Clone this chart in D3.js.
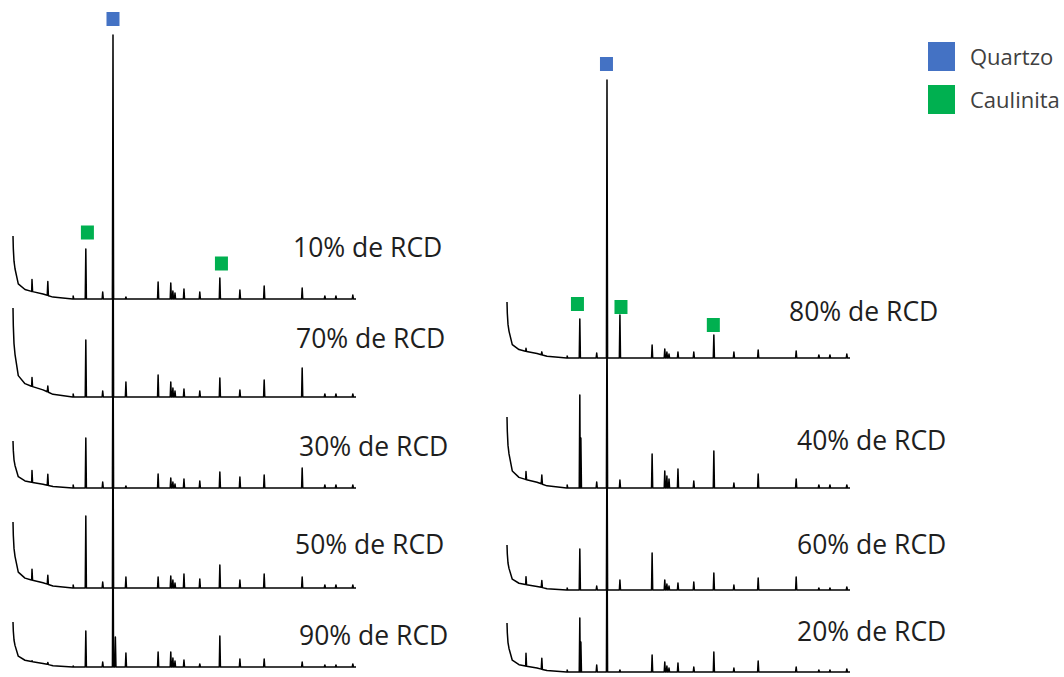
<!DOCTYPE html>
<html><head><meta charset="utf-8">
<script src="https://cdn.jsdelivr.net/npm/d3@7"></script>
<style>body{margin:0;background:#fff} svg{display:block}</style>
</head><body><svg id="chart" width="1064" height="677"></svg>
<script>
// ---- data -------------------------------------------------------------
// 2θ window recorded for every sample
const twoThetaRange = [5, 70];

// reflection positions (2θ) shared by every sample
const peakPositions = [8.6, 11.6, 16.4, 18.8, 19.0, 22.0, 23.95, 24.4, 26.4, 32.5, 34.9, 35.3, 35.7,
                       37.4, 40.4, 44.2, 48.0, 52.6, 59.8, 64.1, 66.2, 69.4];

// low-angle background: shape (fraction of the starting intensity) at these angles
const backgroundTheta = [5.0, 5.06, 5.19, 5.38, 6.0, 7.27, 8.54, 10.69, 12.58, 16.4, 70];
const backgroundShape = [1.0, 0.8, 0.6, 0.48, 0.24, 0.15, 0.12, 0.08, 0.03, 0.0, 0.0];

// sample names
const samplesLeft  = ["10% de RCD", "70% de RCD", "30% de RCD", "50% de RCD", "90% de RCD"];
const samplesRight = ["80% de RCD", "40% de RCD", "60% de RCD", "20% de RCD"];

// stacking offset of each diffractogram (counts)
const offsetsLeft  = [3730, 2750, 1840, 840, 50];
const offsetsRight = [3140, 1840, 820, 0];

// background intensity at 5° (counts)
const backgroundStartLeft  = [630, 890, 470, 660, 450];
const backgroundStartRight = [560, 710, 450, 490];

// peak intensities (counts) at peakPositions, one row per sample
const rcd10 = [120,140,30,500,0,70,2640,0,20,170,160,80,60,100,70,210,90,130,110,30,30,40];
const rcd70 = [90,60,30,570,0,60,2120,0,150,220,150,90,60,80,60,190,70,170,290,30,30,30];
const rcd30 = [120,110,30,500,0,60,1630,0,20,140,100,60,40,90,70,160,110,130,200,30,30,30];
const rcd50 = [110,90,30,720,0,60,1780,0,110,110,120,80,50,140,90,230,80,140,110,30,30,30];
const rcd90 = [10,20,10,360,0,50,1540,300,140,150,150,90,60,70,30,310,80,80,50,20,20,30];
const rcd80 = [30,30,20,390,0,50,2780,0,430,130,90,60,40,60,60,230,60,80,70,30,30,40];
const rcd40 = [80,90,30,930,500,60,1860,0,80,340,170,120,90,190,70,370,50,140,90,30,30,30];
const rcd60 = [80,70,20,410,0,40,1670,0,100,370,100,60,40,70,80,170,50,120,130,20,20,30];
const rcd20 = [130,110,20,540,300,70,1670,0,20,170,100,60,40,90,50,200,40,110,50,20,20,30];
const peaksLeft  = [rcd10, rcd70, rcd30, rcd50, rcd90];
const peaksRight = [rcd80, rcd40, rcd60, rcd20];

// phase identification markers: [2θ, stacked intensity]
const quartzoLeft    = [[23.95, 6530]];
const caulinitaLeft  = [[19.1, 4395], [44.5, 4085]];
const quartzoRight   = [[23.85, 6080]];
const caulinitaRight = [[18.35, 3680], [26.6, 3650], [44.1, 3470]];

const legendItems = ["Quartzo", "Caulinita"];

// ---- layout -----------------------------------------------------------
const panelLeftX  = [13, 507];
const panelWidth  = 343;
const colors = { quartzo: "#4472C4", caulinita: "#00B050" };
// sample label anchors (px, text baseline)
const labelPosLeft  = [[293, 257], [296, 348], [299, 456], [295, 554], [299, 645]];
const labelPosRight = [[789, 321], [797, 450], [797, 554], [797, 641]];

const svg = d3.select("#chart");

// stacked intensity -> px (10 counts per px)
const y = d3.scaleLinear().domain([0, 6720]).range([672, 0]);
const peakHalfWidth = 0.11;

const bgScale = d3.scaleLinear().domain(backgroundTheta).range(backgroundShape).clamp(true);

function tracePoints(peaks, bgStart) {
  const pts = backgroundTheta.map(t => [t, bgStart * bgScale(t)]);
  peakPositions.forEach((p, i) => {
    const h = peaks[i];
    if (!h) return;
    pts.push([p - peakHalfWidth, bgStart * bgScale(p - peakHalfWidth)]);
    pts.push([p, bgStart * bgScale(p) + h]);
    pts.push([p + peakHalfWidth, bgStart * bgScale(p + peakHalfWidth)]);
  });
  return pts.sort((a, b) => a[0] - b[0]);
}

function drawPanel(x0, names, offsets, bgStarts, peakRows, labelPos, quartzo, caulinita) {
  const x = d3.scaleLinear().domain(twoThetaRange).range([x0, x0 + panelWidth]);
  const g = svg.append("g");
  names.forEach((name, k) => {
    const line = d3.line()
      .x(d => x(d[0]))
      .y(d => y(offsets[k] + d[1]));
    g.append("path")
      .datum(tracePoints(peakRows[k], bgStarts[k]))
      .attr("d", line)
      .attr("fill", "none")
      .attr("stroke", "#000")
      .attr("stroke-width", 1.5)
      .attr("stroke-linejoin", "round");
  });
  names.forEach((name, k) => {
    g.append("text")
      .attr("x", labelPos[k][0]).attr("y", labelPos[k][1])
      .attr("font-family", "'Open Sans', sans-serif")
      .attr("font-size", 26.5)
      .attr("fill", "#1e1e1e")
      .text(name);
  });
  const mark = (data, color) => g.selectAll(null).data(data).enter().append("rect")
    .attr("x", d => x(d[0]) - 6.5).attr("y", d => y(d[1]) - 7)
    .attr("width", 13).attr("height", 14)
    .attr("fill", color);
  mark(quartzo, colors.quartzo);
  mark(caulinita, colors.caulinita);
}

drawPanel(panelLeftX[0], samplesLeft, offsetsLeft, backgroundStartLeft, peaksLeft, labelPosLeft, quartzoLeft, caulinitaLeft);
drawPanel(panelLeftX[1], samplesRight, offsetsRight, backgroundStartRight, peaksRight, labelPosRight, quartzoRight, caulinitaRight);

// legend
const legend = svg.append("g").attr("transform", "translate(928,42)");
legendItems.forEach((name, i) => {
  legend.append("rect")
    .attr("x", 0).attr("y", i * 43)
    .attr("width", 27).attr("height", 29)
    .attr("fill", i === 0 ? colors.quartzo : colors.caulinita);
  legend.append("text")
    .attr("x", 42).attr("y", i * 43 + 23)
    .attr("font-family", "'Open Sans', sans-serif")
    .attr("font-size", 22)
    .attr("fill", "#404040")
    .text(name);
});
</script>
</body></html>
